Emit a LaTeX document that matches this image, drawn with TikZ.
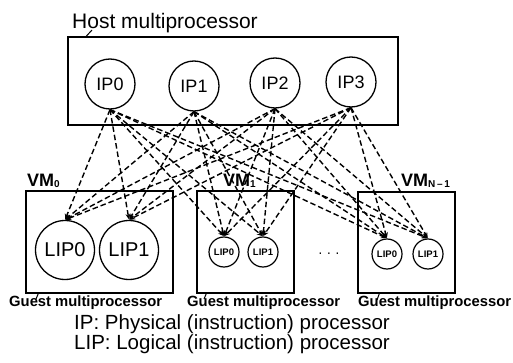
\documentclass[tikz,border=0pt]{standalone}
\usepackage{fontspec}
\setmainfont{Liberation Sans}
\usetikzlibrary{arrows.meta}
\tikzset{
>={Stealth[length=5.5pt,width=5pt]},
ip node/.style={circle,draw,line width=1.3pt,minimum size=50pt,inner sep=0pt,font=\fontsize{18}{18}\selectfont},
lip node/.style={circle,draw,line width=1.3pt,minimum size=59pt,inner sep=0pt,font=\fontsize{20}{20}\selectfont},
small lip/.style={circle,draw,line width=1.2pt,minimum size=30pt,inner sep=0pt,font=\bfseries\fontsize{9.5}{9.5}\selectfont},
box/.style={draw,line width=1.5pt,inner sep=0pt},
lbl/.style={inner sep=0pt,anchor=base west},
freccia/.style={->,line width=1.4pt,dash pattern=on 5.5pt off 3pt,shorten >=0.5pt},
leader/.style={line width=1pt}}
\newcommand{\vmsub}[1]{\raisebox{-0.5pt}{\fontsize{10}{10}\selectfont#1}}

\begin{document}
\begin{tikzpicture}[x=1pt,y=-1pt]
\useasboundingbox (0,0) rectangle (513,363);

% host multiprocessor
\node[box,minimum width=330pt,minimum height=88pt] (host) at (233,81) {};
\node[lbl,font=\fontsize{21}{21}\selectfont] (hostlbl) at (72,29) {Host multiprocessor};
\coordinate (hostc) at ([xshift=19pt]host.north west);
\draw[leader] ([xshift=20pt,yshift=-1pt]hostlbl.base west) -- (hostc);

\node[ip node] (ip0) at (110,84) {IP0};
\node[ip node] (ip1) at (194,86) {IP1};
\node[ip node] (ip2) at (275,83) {IP2};
\node[ip node] (ip3) at (351,82) {IP3};

% virtual machines
\node[box,minimum width=147pt,minimum height=102pt] (vm0) at (99.5,242) {};
\node[box,minimum width=97pt,minimum height=102pt] (vm1) at (245.5,242) {};
\node[box,minimum width=97pt,minimum height=101pt] (vm2) at (406.5,242.5) {};

\node[lbl,font=\bfseries\fontsize{18}{18}\selectfont] (vm0lbl) at (27,187) {VM\vmsub{0}};
\node[lbl,font=\bfseries\fontsize{18}{18}\selectfont] (vm1lbl) at (223,187) {VM\vmsub{1}};
\node[lbl,font=\bfseries\fontsize{18}{18}\selectfont] (vm2lbl) at (401,187) {VM\vmsub{N\,--\,1}};

\node[lip node] (l00) at (65,250) {LIP0};
\node[lip node] (l01) at (129,250) {LIP1};
\node[small lip] (l10) at (224,252) {LIP0};
\node[small lip] (l11) at (263,252) {LIP1};
\node[small lip] (l20) at (387,254) {LIP0};
\node[small lip] (l21) at (428,254) {LIP1};

\node[font=\fontsize{14}{14}\selectfont] (dots) at (329,255) {\textperiodcentered\ \textperiodcentered\ \textperiodcentered};

% mappings
\path[freccia] (ip0.south) edge (l00.north) edge (l01.north) edge (l10.north) edge (l11.north) edge (l20.north) edge (l21.north);
\path[freccia] (ip1.south) edge (l00.north) edge (l01.north) edge (l10.north) edge (l11.north) edge (l20.north) edge (l21.north);
\path[freccia] (ip2.south) edge (l00.north) edge (l01.north) edge (l10.north) edge (l11.north) edge (l20.north) edge (l21.north);
\path[freccia] (ip3.south) edge (l00.north) edge (l01.north) edge (l10.north) edge (l11.north) edge (l20.north) edge (l21.north);

% guest labels
\node[lbl,font=\bfseries\fontsize{14.8}{15}\selectfont] (g0) at (9,306) {Guest multiprocessor};
\node[lbl,font=\bfseries\fontsize{14.8}{15}\selectfont] (g1) at (187,306) {Guest multiprocessor};
\node[lbl,font=\bfseries\fontsize{14.8}{15}\selectfont] (g2) at (358,306) {Guest multiprocessor};
\coordinate (g0c) at ([xshift=13pt]vm0.south west);
\coordinate (g1c) at ([xshift=10pt]vm1.south west);
\coordinate (g2c) at ([xshift=22pt]vm2.south west);
\draw[leader] ([xshift=27pt,yshift=7pt]g0.base west) -- (g0c);
\draw[leader] ([xshift=17pt,yshift=7pt]g1.base west) -- (g1c);
\draw[leader] ([xshift=19pt,yshift=6pt]g2.base west) -- (g2c);

% legend
\node[lbl,font=\fontsize{20.5}{21}\selectfont] (legip) at (74,329) {IP: Physical (instruction) processor};
\node[lbl,font=\fontsize{20.5}{21}\selectfont] (leglip) at (74,349) {LIP: Logical (instruction) processor};

\end{tikzpicture}
\end{document}
